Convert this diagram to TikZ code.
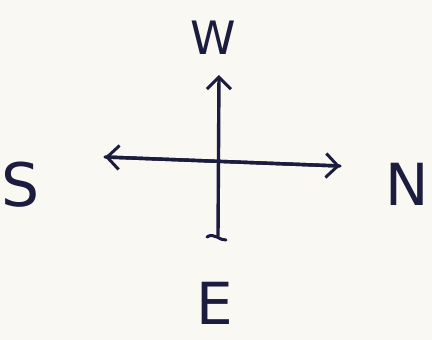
\documentclass[tikz,border=0pt]{standalone}
\usepackage{fontspec}
\setmainfont{DejaVu Sans}
\usetikzlibrary{arrows.meta}
\definecolor{ink}{HTML}{1C1C3E}
\definecolor{paper}{HTML}{FAF8F2}
\begin{document}
\begin{tikzpicture}[x=1pt,y=-1pt,
  pen/.style={draw=ink,line width=3.4pt,line cap=round,line join=round},
  lbl/.style={text=ink,inner sep=0pt,font=\fontsize{#1}{#1}\selectfont},
  tip/.style={-{Straight Barb[length=12pt,width=24pt,line width=3pt]}}]
\fill[paper] (0,0) rectangle (432,340);
\useasboundingbox (0,0) rectangle (432,340);
% labels
\node[lbl=46] (w) at (213,38) {W};
\node[lbl=60] (s) at (21,185) {S};
\node[lbl=58] (n) at (407,184) {N};
\node[lbl=58] (e) at (215,303) {E};
% axis ends
\coordinate (top) at (219,75);
\coordinate (bot) at (218,236);
\coordinate (lft) at (105,157);
\coordinate (rgt) at (340,166);
% axes
\draw[pen,tip] (bot) -- (top);
\draw[pen,tip] (lft) -- (rgt);
\draw[pen,tip] (rgt) -- (lft);
% bottom tick
\draw[pen,line width=3pt] ([xshift=-11pt,yshift=-1pt]bot) .. controls ([xshift=-4pt,yshift=4pt]bot) and ([xshift=2pt,yshift=-5pt]bot) .. ([xshift=8pt,yshift=-4pt]bot);
\end{tikzpicture}
\end{document}
